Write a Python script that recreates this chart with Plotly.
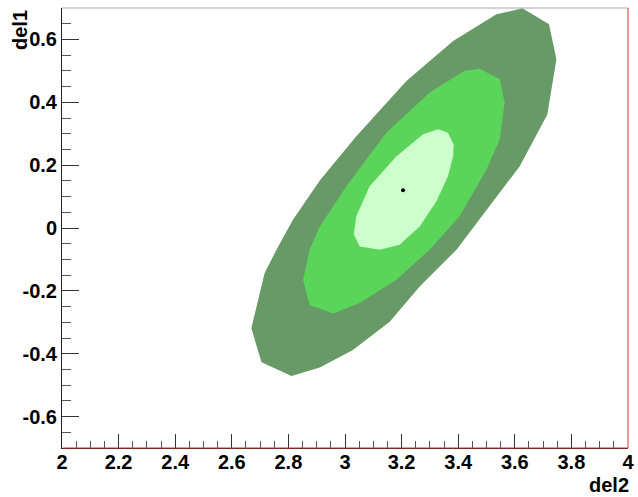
import plotly.graph_objects as go

# Contour polygons (del2, del1)
outer_x = [3.627, 3.721, 3.747, 3.715, 3.617, 3.394, 3.264, 3.158, 3.028, 2.911,
           2.811, 2.705, 2.669, 2.716, 2.758, 2.816, 2.911, 3.040, 3.217, 3.382, 3.535]
outer_y = [0.699, 0.648, 0.537, 0.361, 0.196, -0.069, -0.186, -0.298, -0.388, -0.444,
           -0.471, -0.427, -0.319, -0.143, -0.069, 0.026, 0.151, 0.292, 0.468, 0.595, 0.680]

mid_x = [3.476, 3.547, 3.564, 3.547, 3.500, 3.405, 3.299, 3.182, 3.052, 2.958,
         2.875, 2.852, 2.875, 2.911, 3.005, 3.146, 3.299, 3.423]
mid_y = [0.507, 0.473, 0.399, 0.282, 0.186, 0.037, -0.069, -0.165, -0.239, -0.272,
         -0.245, -0.165, -0.069, 0.005, 0.133, 0.303, 0.431, 0.500]

inner_x = [3.329, 3.364, 3.384, 3.382, 3.364, 3.323, 3.264, 3.193, 3.123, 3.052,
           3.031, 3.040, 3.087, 3.182, 3.276]
inner_y = [0.314, 0.303, 0.266, 0.228, 0.165, 0.085, 0.005, -0.053, -0.069, -0.059,
           -0.021, 0.037, 0.133, 0.228, 0.298]

best_x = [3.205]
best_y = [0.12]

x_ticks = [2, 2.2, 2.4, 2.6, 2.8, 3, 3.2, 3.4, 3.6, 3.8, 4]
x_labels = ["2", "2.2", "2.4", "2.6", "2.8", "3", "3.2", "3.4", "3.6", "3.8", "4"]
y_ticks = [-0.6, -0.4, -0.2, 0, 0.2, 0.4, 0.6]
y_labels = ["-0.6", "-0.4", "-0.2", "0", "0.2", "0.4", "0.6"]

colors = ["#679a67", "#5ad55a", "#ccffcc"]

fig = go.Figure()
for xs, ys, c in [(outer_x, outer_y, colors[0]), (mid_x, mid_y, colors[1]), (inner_x, inner_y, colors[2])]:
    fig.add_trace(go.Scatter(x=xs + [xs[0]], y=ys + [ys[0]], mode="lines", fill="toself",
                             fillcolor=c, line=dict(width=0, color=c), hoverinfo="skip",
                             showlegend=False))
fig.add_trace(go.Scatter(x=best_x, y=best_y, mode="markers",
                         marker=dict(color="black", size=4), showlegend=False))

font = dict(family="Liberation Sans, Arial, sans-serif", size=20, color="black", weight="bold")

fig.update_layout(
    template="none",
    width=638, height=497,
    margin=dict(l=62, r=10, t=8, b=49, autoexpand=False),
    paper_bgcolor="white", plot_bgcolor="white",
    showlegend=False,
    xaxis=dict(range=[2, 4], tickvals=x_ticks, ticktext=x_labels, ticks="inside",
               ticklen=14, tickwidth=1, tickcolor="#333", showgrid=False, zeroline=False,
               showline=True, linecolor="#222", linewidth=1, tickfont=font,
               ticklabelstandoff=-4, automargin=False,
               minor=dict(dtick=0.05, ticks="inside", ticklen=7, tickcolor="#555", showgrid=False),
               fixedrange=True),
    yaxis=dict(range=[-0.7, 0.7], tickvals=y_ticks, ticktext=y_labels, ticks="inside",
               ticklen=17, tickwidth=1, tickcolor="#333", showgrid=False, zeroline=False,
               showline=True, linecolor="#222", linewidth=1, tickfont=font,
               automargin=False,
               minor=dict(dtick=0.05, ticks="inside", ticklen=9, tickcolor="#555", showgrid=False),
               fixedrange=True),
    shapes=[
        dict(type="line", xref="x domain", yref="y domain", x0=0, x1=1, y0=1, y1=1,
             line=dict(color="#aaaaaa", width=1)),
        dict(type="line", xref="x domain", yref="y domain", x0=1, x1=1, y0=0, y1=1,
             line=dict(color="#e03030", width=1)),
        dict(type="line", xref="x domain", yref="y domain", x0=0.002, x1=1, y0=0, y1=0,
             line=dict(color="#e03030", width=1)),
    ],
    annotations=[
        dict(text="del2", xref="x domain", yref="y domain", x=1, y=0, xanchor="right",
             yanchor="top", xshift=3, yshift=-24, showarrow=False, font=font),
        dict(text="del1", xref="x domain", yref="y domain", x=0, y=1, xanchor="center",
             yanchor="top", xshift=-42, yshift=0, textangle=-90, showarrow=False, font=font),
    ],
)

fig.write_html("out.html", config={"displayModeBar": False},
               post_script="document.body.style.margin='0';document.body.style.padding='0';")
